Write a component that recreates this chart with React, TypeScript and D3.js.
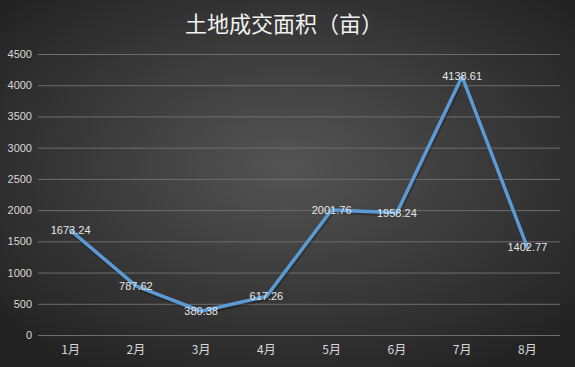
import { useRef, useEffect } from "react";
import * as d3 from "d3";

const months: string[] = ["1月", "2月", "3月", "4月", "5月", "6月", "7月", "8月"];
const areas: number[] = [1673.24, 787.62, 380.38, 617.26, 2001.76, 1958.24, 4138.61, 1402.77];
const yTicks: number[] = d3.range(0, 4501, 500);
const chartTitle = "土地成交面积（亩）";

export default function App() {
    const svgRef = useRef<SVGSVGElement | null>(null);

    useEffect(() => {
        if (!svgRef.current) return;
        const width = 575;
        const height = 367;
        const margin = { top: 54, right: 15, bottom: 32, left: 38 };

        const svg = d3.select(svgRef.current);
        svg.selectAll("*").remove();

        // background gradient
        const defs = svg.append("defs");
        const grad = defs.append("radialGradient")
            .attr("id", "bg")
            .attr("cx", "50%").attr("cy", "45%").attr("r", "65%");
        grad.append("stop").attr("offset", "0%").attr("stop-color", "#545454");
        grad.append("stop").attr("offset", "100%").attr("stop-color", "#232323");

        svg.append("rect")
            .attr("width", width)
            .attr("height", height)
            .attr("fill", "url(#bg)");

        const xScale = d3.scaleBand().domain(months).range([margin.left, width - margin.right]);
        const yScale = d3.scaleLinear().domain([0, 4500]).range([height - margin.bottom, margin.top]);

        // grid lines + y labels
        const yAxis = d3.axisLeft(yScale)
            .tickValues(yTicks)
            .tickSize(-(width - margin.left - margin.right))
            .tickPadding(6)
            .tickFormat((d: any) => String(d));

        const gy = svg.append("g")
            .attr("transform", `translate(${margin.left},0)`)
            .call(yAxis);
        gy.select(".domain").remove();
        gy.selectAll(".tick line").attr("stroke", "#6e6e6e").attr("stroke-width", 1);
        gy.selectAll(".tick text")
            .attr("fill", "#d9d9d9")
            .style("font-family", "'Liberation Sans', sans-serif")
            .style("font-size", "11px");

        // x labels
        const xAxis = d3.axisBottom(xScale).tickSize(0).tickPadding(10);
        const gx = svg.append("g")
            .attr("transform", `translate(0,${height - margin.bottom})`)
            .call(xAxis);
        gx.select(".domain").remove();
        gx.selectAll(".tick text")
            .attr("fill", "#d9d9d9")
            .style("font-family", "'Noto Sans CJK SC', sans-serif")
            .style("font-size", "12px");

        const cx = (i: number) => (xScale(months[i]) as number) + xScale.bandwidth() / 2;

        const line = d3.line<number>()
            .x((_d, i) => cx(i))
            .y(d => yScale(d));

        svg.append("path")
            .datum(areas)
            .attr("d", line)
            .attr("fill", "none")
            .attr("stroke", "#000")
            .attr("stroke-opacity", 0.25)
            .attr("stroke-width", 4)
            .attr("transform", "translate(1,2)")
            .attr("stroke-linejoin", "round");

        svg.append("path")
            .datum(areas)
            .attr("d", line)
            .attr("fill", "none")
            .attr("stroke", "#5b9bd5")
            .attr("stroke-width", 3.5)
            .attr("stroke-linejoin", "round")
            .attr("stroke-linecap", "round");

        // data labels
        svg.append("g")
            .selectAll("text")
            .data(areas)
            .join("text")
            .attr("x", (_d, i) => cx(i))
            .attr("y", d => yScale(d))
            .attr("dy", "0.35em")
            .attr("text-anchor", "middle")
            .attr("fill", "#e6e6e6")
            .style("font-family", "'Liberation Sans', sans-serif")
            .style("font-size", "11px")
            .text(d => d.toFixed(2));

        // title
        svg.append("text")
            .attr("x", 284)
            .attr("y", 32)
            .attr("text-anchor", "middle")
            .attr("fill", "#f2f2f2")
            .style("font-family", "'Noto Sans CJK SC', sans-serif")
            .style("font-size", "22px")
            .text(chartTitle);
    }, []);

    return (
        <svg ref={svgRef} width={575} height={367}
            style={{ position: "absolute", left: 0, top: 0, display: "block" }} />
    );
}
